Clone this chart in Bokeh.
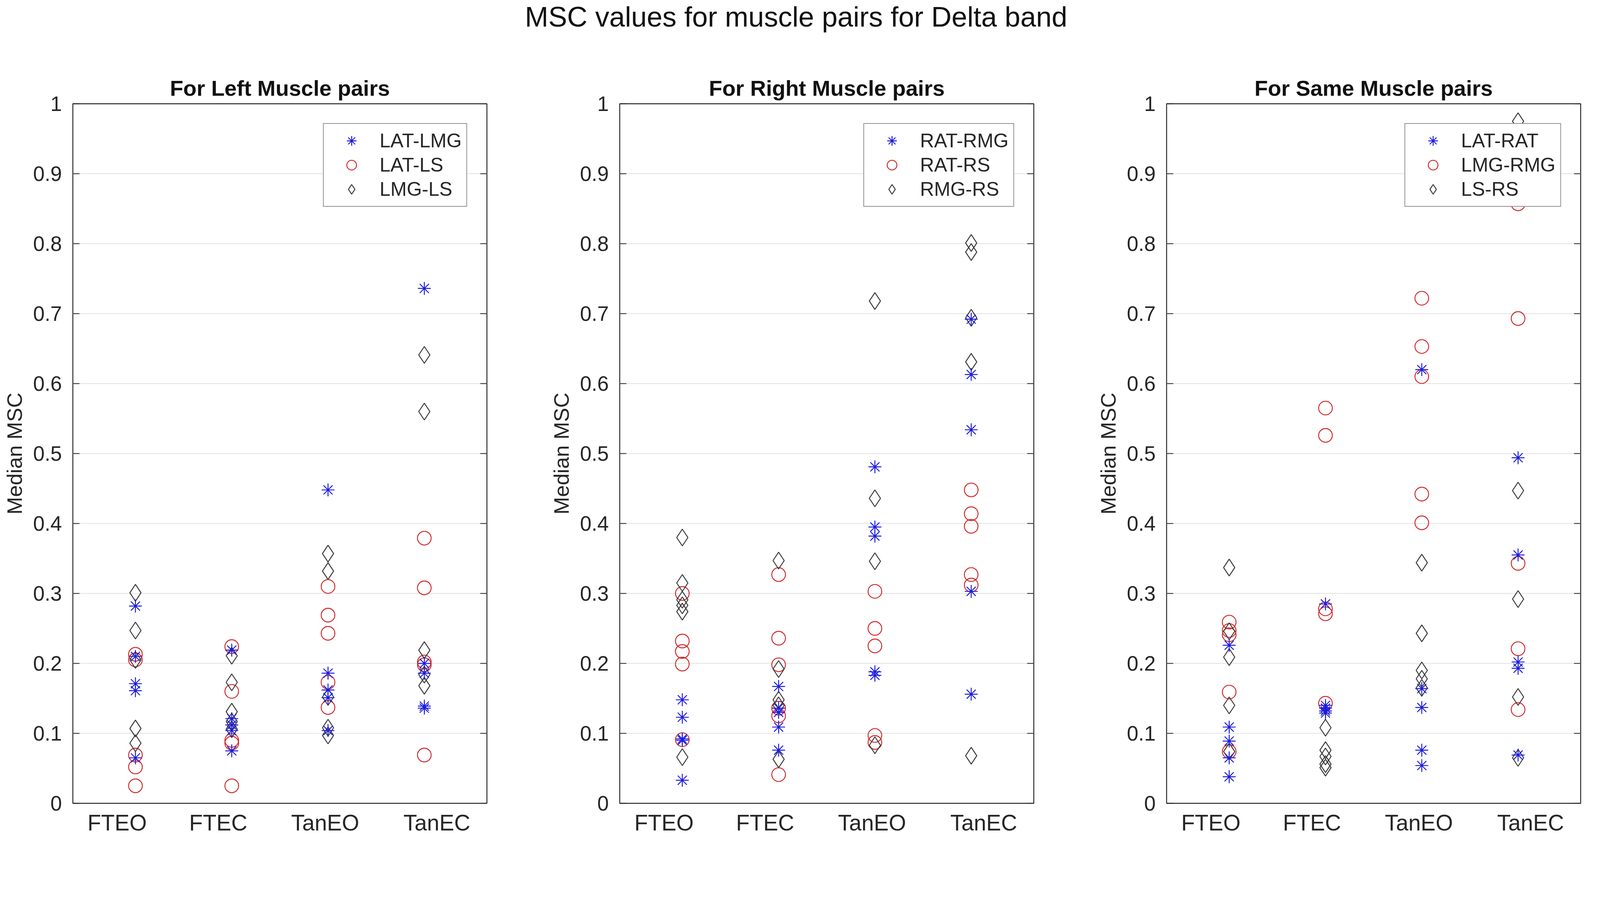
import math
from bokeh.plotting import figure
from bokeh.models import (Range1d, FixedTicker, Legend, LegendItem, Div, ColumnDataSource)
from bokeh.layouts import column, row
from bokeh.embed import file_html
from bokeh.resources import INLINE

# ---------------- data ----------------
main_title = "MSC values for muscle pairs for Delta band"
categories = ["FTEO", "FTEC", "TanEO", "TanEC"]
y_tick_values = [0.0, 0.1, 0.2, 0.3, 0.4, 0.5, 0.6, 0.7, 0.8, 0.9, 1.0]
y_tick_labels = ["0", "0.1", "0.2", "0.3", "0.4", "0.5", "0.6", "0.7", "0.8", "0.9", "1"]
y_label = "Median MSC"

# Left muscle pairs (one list per category: FTEO, FTEC, TanEO, TanEC)
left_title = "For Left Muscle pairs"
left_names = ["LAT-LMG", "LAT-LS", "LMG-LS"]
left_lat_lmg = [[0.282, 0.210, 0.171, 0.161, 0.065],
                [0.219, 0.121, 0.112, 0.104, 0.075],
                [0.448, 0.186, 0.162, 0.151, 0.104],
                [0.736, 0.200, 0.186, 0.139, 0.136]]
left_lat_ls = [[0.213, 0.205, 0.069, 0.052, 0.025],
               [0.224, 0.160, 0.090, 0.086, 0.025],
               [0.310, 0.269, 0.243, 0.173, 0.137],
               [0.379, 0.308, 0.202, 0.198, 0.069]]
left_lmg_ls = [[0.301, 0.247, 0.205, 0.107, 0.086],
               [0.211, 0.173, 0.131, 0.117, 0.106],
               [0.357, 0.332, 0.152, 0.108, 0.097],
               [0.641, 0.560, 0.219, 0.184, 0.168]]

# Right muscle pairs
right_title = "For Right Muscle pairs"
right_names = ["RAT-RMG", "RAT-RS", "RMG-RS"]
right_rat_rmg = [[0.148, 0.123, 0.092, 0.090, 0.033],
                 [0.167, 0.136, 0.130, 0.109, 0.076],
                 [0.481, 0.395, 0.382, 0.188, 0.183],
                 [0.692, 0.613, 0.534, 0.303, 0.156]]
right_rat_rs = [[0.300, 0.232, 0.217, 0.199, 0.091],
                [0.327, 0.236, 0.198, 0.136, 0.125, 0.041],
                [0.303, 0.250, 0.225, 0.097, 0.087],
                [0.448, 0.414, 0.396, 0.327, 0.312]]
right_rmg_rs = [[0.380, 0.315, 0.291, 0.283, 0.274, 0.066],
                [0.347, 0.192, 0.148, 0.140, 0.063],
                [0.718, 0.436, 0.346, 0.083],
                [0.801, 0.788, 0.694, 0.631, 0.068]]

# Same muscle pairs
same_title = "For Same Muscle pairs"
same_names = ["LAT-RAT", "LMG-RMG", "LS-RS"]
same_lat_rat = [[0.226, 0.109, 0.089, 0.065, 0.038],
                [0.285, 0.140, 0.136, 0.132, 0.129],
                [0.620, 0.164, 0.137, 0.076, 0.054],
                [0.494, 0.355, 0.202, 0.193, 0.069]]
same_lmg_rmg = [[0.259, 0.247, 0.241, 0.159, 0.074],
                [0.565, 0.526, 0.278, 0.271, 0.143],
                [0.722, 0.653, 0.610, 0.442, 0.401],
                [0.857, 0.693, 0.343, 0.221, 0.134]]
same_ls_rs = [[0.337, 0.246, 0.209, 0.140, 0.074],
              [0.108, 0.076, 0.067, 0.056, 0.051],
              [0.344, 0.243, 0.190, 0.178, 0.165],
              [0.975, 0.447, 0.292, 0.152, 0.065]]

# ---------------- style ----------------
FONT = "Liberation Sans"
TXT = "#262626"
STAR_C = "#1c1cdc"
CIRC_C = "#d02a2a"
DIAM_C = "#3a3a3a"
x_label_positions = [0.81, 1.86, 2.97, 4.13]   # where the category labels sit
x_range = (0.35, 4.65)

BORDER_L = 186
BORDER_T = 161
BORDER_B = 106
FRAME_W = 1060
FRAME_H = 1790
FIG_H = BORDER_T + FRAME_H + BORDER_B
TICK_LEN = 17


def make_panel(title, names, stars, circles, diamonds, right_border, legend_label_w):
    width = BORDER_L + FRAME_W + right_border
    p = figure(width=width, height=FIG_H, output_backend="svg", toolbar_location=None,
               x_range=Range1d(*x_range), y_range=Range1d(0, 1),
               min_border_left=BORDER_L, min_border_right=right_border,
               min_border_top=BORDER_T, min_border_bottom=BORDER_B,
               background_fill_color="white", border_fill_color="white")
    p.outline_line_color = TXT
    p.outline_line_width = 2.4

    p.title.text = title
    p.title.align = "center"
    p.title.text_font = FONT
    p.title.text_font_size = "56px"
    p.title.text_font_style = "bold"
    p.title.text_color = "#111111"
    p.title.standoff = 17

    yt = FixedTicker(ticks=y_tick_values)
    ax_y = p.yaxis[0]
    ax_y.ticker = yt
    ax_y.major_label_overrides = {v: s for v, s in zip(y_tick_values, y_tick_labels)}
    ax_y.major_label_text_font = FONT
    ax_y.major_label_text_font_size = "53px"
    ax_y.major_label_text_color = TXT
    ax_y.major_label_standoff = 28
    ax_y.major_tick_in = TICK_LEN
    ax_y.major_tick_out = 0
    ax_y.major_tick_line_color = TXT
    ax_y.major_tick_line_width = 2
    ax_y.minor_tick_line_color = None
    ax_y.axis_line_color = None
    ax_y.axis_label = y_label
    ax_y.axis_label_text_font = FONT
    ax_y.axis_label_text_font_size = "54px"
    ax_y.axis_label_text_font_style = "normal"
    ax_y.axis_label_text_color = TXT
    ax_y.axis_label_standoff = 15

    ax_x = p.xaxis[0]
    ax_x.ticker = FixedTicker(ticks=x_label_positions)
    ax_x.major_label_overrides = {v: c for v, c in zip(x_label_positions, categories)}
    ax_x.major_label_text_font = FONT
    ax_x.major_label_text_font_size = "57px"
    ax_x.major_label_text_color = TXT
    ax_x.major_label_standoff = 17
    ax_x.major_tick_in = 0
    ax_x.major_tick_out = 0
    ax_x.minor_tick_line_color = None
    ax_x.axis_line_color = None

    p.xgrid.visible = False
    p.ygrid.ticker = yt
    p.ygrid.grid_line_color = "#e2e2e2"
    p.ygrid.grid_line_width = 2

    # inward tick marks on the right edge of the box
    p.ray(x=[x_range[1]] * len(y_tick_values), y=y_tick_values, length=TICK_LEN,
          length_units="screen", angle=math.pi, line_color=TXT, line_width=2)

    def source(series):
        xs, ys = [], []
        for i, vals in enumerate(series):
            xs.extend([i + 1] * len(vals))
            ys.extend(vals)
        return ColumnDataSource(data=dict(x=xs, y=ys))

    r_c = p.scatter("x", "y", source=source(circles), marker="circle", size=35,
                    line_color=CIRC_C, fill_color=None, line_width=2.4)
    r_d = p.scatter("x", "y", source=source(diamonds), marker="diamond", size=43,
                    line_color=DIAM_C, fill_color=None, line_width=2.4)
    r_s = p.scatter("x", "y", source=source(stars), marker="asterisk", size=33,
                    line_color=STAR_C, fill_color=None, line_width=2.4)

    legend = Legend(items=[LegendItem(label=names[0], renderers=[r_s]),
                           LegendItem(label=names[1], renderers=[r_c]),
                           LegendItem(label=names[2], renderers=[r_d])],
                    location="top_right", margin=50,
                    label_text_font=FONT, label_text_font_size="50px",
                    label_text_color=TXT, glyph_width=118, glyph_height=62,
                    label_height=59, label_width=legend_label_w, label_standoff=13,
                    padding=12, spacing=-3, border_line_color=TXT,
                    border_line_width=2, background_fill_color="white",
                    background_fill_alpha=1.0)
    p.add_layout(legend)
    return p


p1 = make_panel(left_title, left_names, left_lat_lmg, left_lat_ls, left_lmg_ls, 154, 207)
p2 = make_panel(right_title, right_names, right_rat_rmg, right_rat_rs, right_rmg_rs, 154, 225)
p3 = make_panel(same_title, same_names, same_lat_rat, same_lmg_rmg, same_ls_rs, 30, 229)

total_w = p1.width + p2.width + p3.width
title_div = Div(text=main_title, width=total_w, height=104, margin=(0, 0, 0, 0),
                styles={"font-family": FONT, "font-size": "72px", "text-align": "center",
                        "color": "#111111", "line-height": "1.2", "width": f"{total_w}px"})

layout = column(title_div, row(p1, p2, p3, spacing=0), spacing=0)

open("out.html", "w").write(file_html(layout, INLINE))
